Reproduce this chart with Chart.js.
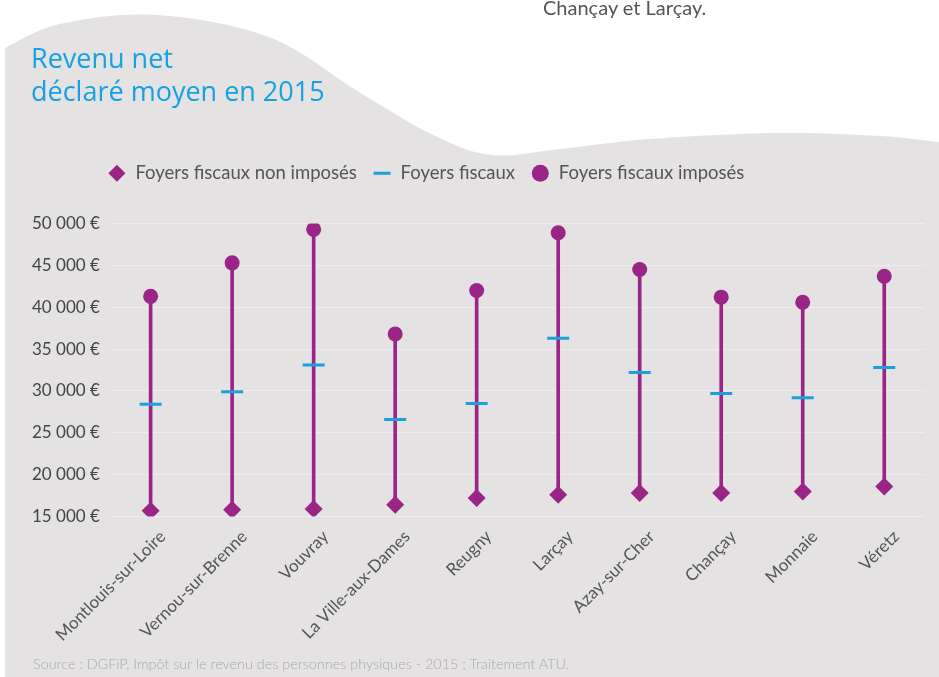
<!DOCTYPE html>
<html lang="fr">
<head>
  <meta charset="utf-8">
  <title>Revenu net déclaré moyen en 2015</title>
  <script src="https://cdn.jsdelivr.net/npm/chart.js@4/dist/chart.umd.min.js"></script>
  <style>
    html, body { margin: 0; padding: 0; background: #fff; }
    #wrap { position: relative; width: 939px; height: 677px; overflow: hidden; }
    #chart { position: absolute; left: 0; top: 0; }
    .txt { position: absolute; white-space: nowrap; }
    #top { left: 543px; top: -5px; font: 20px Lato, sans-serif; color: #555; }
    #title { left: 31px; top: 41px; font: 27px "Open Sans", sans-serif; color: #14a2e2; line-height: 33px; }
    #source { left: 33px; top: 655px; font: 300 14.4px Lato, sans-serif; color: #a9a9a9; }
  </style>
</head>
<body>
<div id="wrap">
  <canvas id="chart" width="939" height="677"></canvas>
  <div class="txt" id="top">Chançay et Larçay.</div>
  <div class="txt" id="title">Revenu net<br>déclaré moyen en 2015</div>
  <div class="txt" id="source">Source : DGFiP, Impôt sur le revenu des personnes physiques - 2015 ; Traitement ATU.</div>
</div>
<script>
  var communes = ['Montlouis-sur-Loire', 'Vernou-sur-Brenne', 'Vouvray', 'La Ville-aux-Dames', 'Reugny',
    'Larçay', 'Azay-sur-Cher', 'Chançay', 'Monnaie', 'Véretz'];
  var nonImposes = [15700, 15800, 15900, 16400, 17200, 17600, 17800, 17800, 18000, 18600];
  var foyers = [28400, 29900, 33100, 26600, 28500, 36300, 32200, 29700, 29200, 32800];
  var imposes = [41300, 45300, 49300, 36800, 42000, 48900, 44500, 41200, 40600, 43700];
  var yTicks = [15000, 20000, 25000, 30000, 35000, 40000, 45000, 50000];

  var purple = '#9b2487';
  var blue = '#1ba0dc';

  // wavy grey backdrop
  var wave = [[5, 48], [60, 24], [156, 15], [269, 37], [359, 92], [431, 134], [491, 155],
    [560, 149], [650, 139], [778, 133], [880, 136], [945, 143]];

  var backdrop = {
    id: 'backdrop',
    beforeDraw: function (chart) {
      var ctx = chart.ctx;
      ctx.save();
      ctx.fillStyle = '#e4e2e3';
      ctx.beginPath();
      ctx.moveTo(5, 677);
      ctx.lineTo(wave[0][0], wave[0][1]);
      for (var i = 0; i < wave.length - 1; i++) {
        var p0 = wave[Math.max(i - 1, 0)], p1 = wave[i], p2 = wave[i + 1], p3 = wave[Math.min(i + 2, wave.length - 1)];
        ctx.bezierCurveTo(p1[0] + (p2[0] - p0[0]) / 6, p1[1] + (p2[1] - p0[1]) / 6,
          p2[0] - (p3[0] - p1[0]) / 6, p2[1] - (p3[1] - p1[1]) / 6, p2[0], p2[1]);
      }
      ctx.lineTo(945, 677);
      ctx.closePath();
      ctx.fill();
      ctx.restore();
    }
  };

  var legendSpot = {
    id: 'legendSpot',
    beforeInit: function (chart) {
      var fit = chart.legend.fit;
      chart.legend.fit = function () {
        fit.call(this);
        this.height += 31;
      };
    },
    afterLayout: function (chart) {
      chart.legend.left = 40;
      chart.legend.right = 812;
    }
  };

  function euro(v) {
    return String(v).replace(/\B(?=(\d{3})+(?!\d))/g, ' ') + ' €';
  }

  new Chart(document.getElementById('chart'), {
    type: 'bar',
    data: {
      labels: communes,
      datasets: [{
        type: 'line',
        label: 'Foyers fiscaux non imposés',
        data: nonImposes,
        showLine: false,
        pointStyle: 'rectRot',
        pointRadius: 9,
        backgroundColor: purple,
        borderColor: purple,
        borderWidth: 0,
        order: 1
      }, {
        type: 'line',
        label: 'Foyers fiscaux',
        data: foyers,
        showLine: false,
        pointStyle: 'line',
        pointRadius: 11,
        backgroundColor: blue,
        borderColor: blue,
        pointBorderWidth: 3,
        borderWidth: 3,
        order: 2
      }, {
        type: 'line',
        label: 'Foyers fiscaux imposés',
        data: imposes,
        showLine: false,
        pointStyle: 'circle',
        pointRadius: 7.5,
        backgroundColor: purple,
        borderColor: purple,
        borderWidth: 0,
        order: 3
      }, {
        label: 'range',
        data: nonImposes.map(function (v, i) { return [v, imposes[i]]; }),
        backgroundColor: purple,
        barThickness: 3,
        order: 4
      }]
    },
    options: {
      responsive: false,
      animation: false,
      layout: { padding: { left: 22, right: 12, top: 148, bottom: 30 } },
      plugins: {
        title: { display: false },
        tooltip: { enabled: false },
        legend: {
          position: 'top',
          labels: {
            usePointStyle: true,
            boxHeight: 12,
            color: '#555',
            font: { family: 'Lato', size: 18.5 },
            padding: 16,
            filter: function (item) { return item.text !== 'range'; }
          }
        }
      },
      scales: {
        x: {
          grid: { display: false },
          border: { display: false },
          ticks: {
            color: '#555',
            font: { family: 'Lato', size: 17 },
            minRotation: 45,
            maxRotation: 45,
            labelOffset: 12,
            padding: 2
          }
        },
        y: {
          min: yTicks[0],
          max: yTicks[yTicks.length - 1],
          afterBuildTicks: function (axis) {
            axis.ticks = yTicks.map(function (v) { return { value: v }; });
          },
          grid: { color: '#eeecee', lineWidth: 1, drawTicks: false },
          border: { display: false },
          ticks: {
            color: '#444',
            font: { family: 'Lato', size: 17 },
            padding: 10,
            callback: function (v) { return euro(v); }
          }
        }
      }
    },
    plugins: [backdrop, legendSpot]
  });
</script>
</body>
</html>
